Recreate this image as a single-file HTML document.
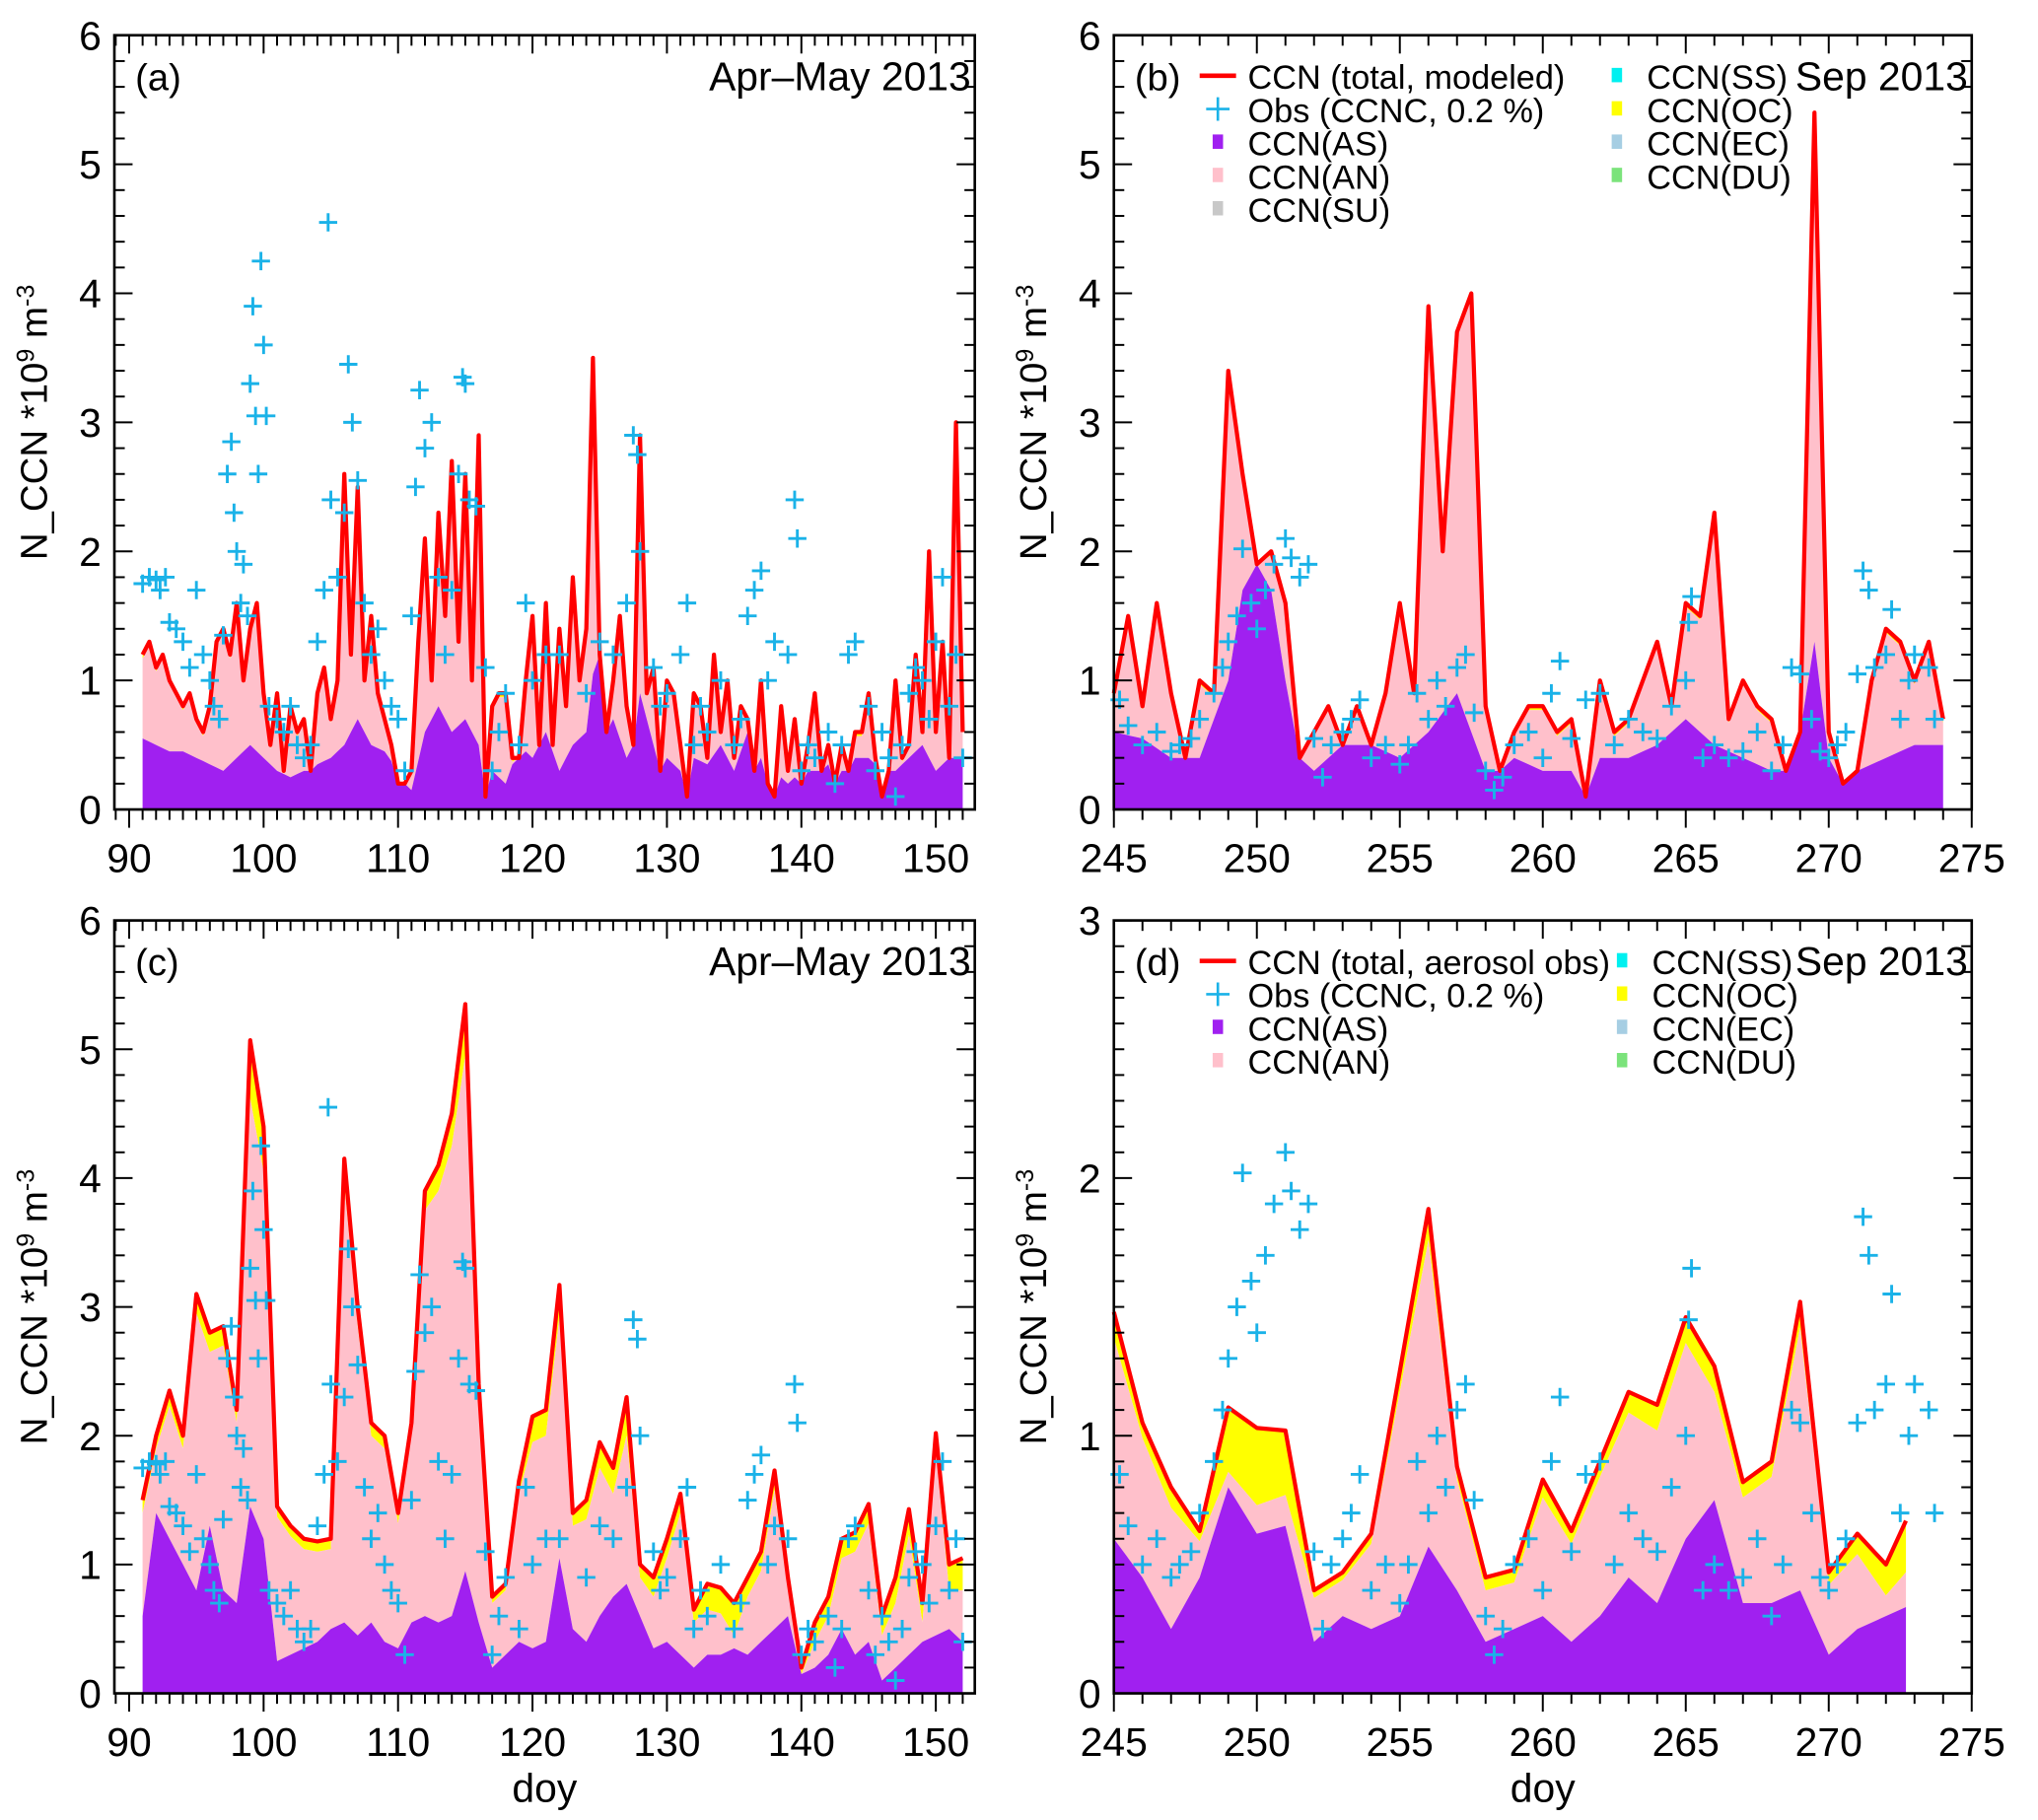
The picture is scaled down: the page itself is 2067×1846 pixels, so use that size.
<!DOCTYPE html>
<html><head><meta charset="utf-8"><style>
html,body{margin:0;padding:0;background:#fff;}
svg{display:block;font-family:"Liberation Sans",Arial,sans-serif;}
</style></head><body>
<svg id="fig" width="2067" height="1846" viewBox="0 0 1568 1394" preserveAspectRatio="none" xmlns="http://www.w3.org/2000/svg"></svg>
<script>
// ---- Data ----
const totalA = [1.2,1.3,1.1,1.2,1.0,0.9,0.8,0.9,0.7,0.6,0.8,1.3,1.4,1.2,1.6,1.0,1.4,1.6,0.9,0.5,0.9,0.3,0.8,0.6,0.7,0.3,0.9,1.1,0.7,1.0,2.6,1.2,2.5,1.0,1.5,0.9,0.7,0.5,0.2,0.2,0.3,1.3,2.1,1.0,2.3,1.5,2.7,1.3,2.6,1.0,2.9,0.1,0.8,0.9,0.9,0.4,0.4,1.0,1.5,0.5,1.6,0.5,1.4,0.8,1.8,1.0,1.4,3.5,1.2,0.6,1.0,1.5,0.8,0.5,2.9,0.9,1.1,0.3,1.0,0.9,0.5,0.1,0.9,0.8,0.4,1.2,0.6,1.0,0.4,0.8,0.7,0.3,1.0,0.2,0.1,0.8,0.3,0.7,0.2,0.5,0.9,0.3,0.5,0.2,0.5,0.3,0.6,0.6,0.9,0.4,0.1,0.3,1.0,0.4,0.5,1.2,0.6,2.0,0.6,1.3,0.4,3.0,0.6];
const asA = [0.55,0.5,0.45,0.45,0.4,0.35,0.3,0.4,0.5,0.4,0.3,0.25,0.3,0.35,0.4,0.5,0.7,0.5,0.45,0.3,0.15,0.6,0.8,0.6,0.7,0.5,0.3,0.2,0.5,0.4,0.6,0.3,0.5,0.6,1.5,0.7,0.4,0.9,0.5,0.4,0.3,0.4,0.35,0.5,0.3,0.6,0.4,0.3,0.2,0.3,0.3,0.35,0.3,0.4,0.4,0.3,0.3,0.4,0.5,0.3,0.4,0.4];
const totalB = [0.9,1.5,0.8,1.6,0.9,0.4,1.0,0.9,3.4,2.6,1.9,2.0,1.6,0.4,0.6,0.8,0.5,0.8,0.5,0.9,1.6,0.9,3.9,2.0,3.7,4.0,0.8,0.3,0.6,0.8,0.8,0.6,0.7,0.1,1.0,0.6,0.7,1.0,1.3,0.8,1.6,1.5,2.3,0.7,1.0,0.8,0.7,0.3,0.6,5.4,0.6,0.2,0.3,1.0,1.4,1.3,1.0,1.3,0.7];
const asB = [0.6,0.55,0.4,0.4,1.0,2.4,1.0,0.3,0.5,0.5,0.4,0.6,0.9,0.3,0.4,0.3,0.3,0.4,0.4,0.5,0.7,0.5,0.4,0.3,2.2,0.4,0.3,0.4,0.5,0.5];
const totalC = [1.5,2.0,2.35,2.0,3.1,2.8,2.85,2.2,5.07,4.4,1.45,1.3,1.2,1.18,1.2,4.15,3.0,2.1,2.0,1.4,2.1,3.9,4.1,4.5,5.35,2.4,0.75,0.85,1.65,2.15,2.2,3.17,1.4,1.5,1.95,1.75,2.3,1.0,0.9,1.2,1.55,0.65,0.85,0.82,0.7,0.9,1.1,1.73,0.9,0.2,0.55,0.75,1.2,1.25,1.47,0.6,0.9,1.43,0.7,2.02,1.0,1.05];
const asC = [0.6,1.4,1.2,1.0,0.8,1.3,0.8,0.7,1.45,1.2,0.25,0.3,0.35,0.4,0.5,0.55,0.45,0.55,0.4,0.35,0.55,0.6,0.55,0.6,0.95,0.55,0.2,0.3,0.4,0.35,0.4,1.05,0.5,0.4,0.6,0.75,0.85,0.6,0.35,0.4,0.3,0.2,0.3,0.3,0.35,0.3,0.4,0.5,0.6,0.15,0.2,0.3,0.5,0.3,0.4,0.1,0.2,0.3,0.4,0.45,0.5,0.4];
const ocC = [0.1,0.1,0.12,0.1,0.15,0.15,0.15,0.1,0.45,0.35,0.08,0.08,0.08,0.08,0.08,0.2,0.15,0.1,0.1,0.08,0.1,0.15,0.2,0.25,0.4,0.15,0.05,0.05,0.1,0.2,0.2,0.25,0.1,0.15,0.2,0.2,0.3,0.1,0.15,0.15,0.15,0.1,0.2,0.2,0.25,0.15,0.15,0.15,0.1,0.05,0.15,0.15,0.15,0.15,0.15,0.15,0.2,0.2,0.15,0.15,0.2,0.25];
const daysD = [245,246,247,248,249,250,251,252,253,254,255,256,257,258,259,260,261,262,263,264,265,266,267,268,269,270,271,272,272.7];
const totalD = [1.48,1.05,0.8,0.63,1.11,1.03,1.02,0.4,0.47,0.62,1.25,1.88,0.88,0.45,0.48,0.83,0.63,0.9,1.17,1.12,1.46,1.27,0.82,0.9,1.52,0.47,0.62,0.5,0.67];
const asD = [0.6,0.45,0.25,0.45,0.8,0.62,0.65,0.2,0.3,0.25,0.3,0.57,0.4,0.2,0.25,0.3,0.2,0.3,0.45,0.35,0.6,0.75,0.35,0.35,0.4,0.15,0.25,0.3,0.35];
const ocD = [0.1,0.06,0.08,0.04,0.25,0.3,0.25,0.03,0.03,0.04,0.08,0.12,0.05,0.05,0.05,0.07,0.05,0.06,0.08,0.1,0.1,0.1,0.06,0.06,0.1,0.05,0.08,0.12,0.2];
const obsDaysA = [91,91.5,92,92.3,92.7,93,93.5,94,94.5,95,95.5,96,96.3,96.7,97,97.3,97.6,97.8,98,98.3,98.5,98.8,99,99.2,99.4,99.6,99.8,100,100.2,100.4,101,101.5,102,102.5,103,103.5,104,104.5,104.8,105,105.5,106,106.3,106.6,107,107.5,108,108.5,109,109.5,110,110.5,111,111.3,111.6,112,112.5,113,113.5,114,114.5,114.8,115,115.3,115.8,116.5,117,117.5,118,119,119.5,120,121,122,124,125,126,127,127.5,127.8,128,129,129.5,130,131,131.5,132,132.5,133,134,135,135.5,136,136.5,137,137.5,138,139,139.5,139.7,140,140.5,141,142,142.5,143,143.5,144,145,145.5,146,146.5,147,147.5,148,148.5,149,149.5,150,150.5,151,151.5,152];
const obsValsA = [1.75,1.8,1.78,1.7,1.8,1.45,1.4,1.3,1.1,1.7,1.2,1.0,0.8,0.7,1.35,2.6,2.85,2.3,2.0,1.6,1.9,1.5,3.3,3.9,3.05,2.6,4.25,3.6,3.05,0.8,0.7,0.6,0.8,0.5,0.4,0.5,1.3,1.7,4.55,2.4,1.8,2.3,3.45,3.0,2.55,1.6,1.2,1.4,1.0,0.8,0.7,0.3,1.5,2.5,3.25,2.8,3.0,1.8,1.2,1.7,2.6,3.35,3.3,2.4,2.35,1.1,0.3,0.6,0.9,0.5,1.6,1.0,1.2,1.2,0.9,1.3,1.2,1.6,2.9,2.75,2.0,1.1,0.8,0.9,1.2,1.6,0.5,0.8,0.6,1.0,0.5,0.7,1.5,1.7,1.85,1.0,1.3,1.2,2.4,2.1,0.3,0.5,0.4,0.6,0.2,0.5,1.2,1.3,0.8,0.3,0.6,0.4,0.1,0.5,0.9,1.1,1.0,0.7,1.3,1.8,0.8,1.2,0.4];
const obsDaysB = [245.2,245.5,246,246.5,247,247.3,247.7,248,248.5,248.8,249,249.3,249.5,249.8,250,250.3,250.6,251,251.2,251.5,251.8,252,252.3,252.6,253,253.3,253.6,254,254.5,255,255.3,255.6,256,256.3,256.6,257,257.3,257.6,258,258.3,258.6,259,259.5,260,260.3,260.6,261,261.5,262,262.5,263,263.5,264,264.5,265,265.1,265.2,265.6,266,266.5,267,267.5,268,268.4,268.7,269,269.4,269.7,270,270.3,270.6,271,271.2,271.4,271.6,272,272.2,272.5,272.8,273,273.5,273.7];
const obsValsB = [0.85,0.65,0.5,0.6,0.45,0.5,0.55,0.7,0.9,1.1,1.3,1.5,2.02,1.6,1.4,1.7,1.9,2.1,1.95,1.8,1.9,0.55,0.25,0.5,0.6,0.7,0.85,0.4,0.5,0.35,0.5,0.9,0.7,1.0,0.8,1.1,1.2,0.75,0.3,0.15,0.25,0.5,0.6,0.4,0.9,1.15,0.55,0.85,0.9,0.5,0.7,0.6,0.55,0.8,1.0,1.45,1.65,0.4,0.5,0.4,0.45,0.6,0.3,0.5,1.1,1.05,0.7,0.45,0.4,0.5,0.6,1.05,1.85,1.7,1.1,1.2,1.55,0.7,1.0,1.2,1.1,0.7];

const NS='http://www.w3.org/2000/svg';
const svg=document.getElementById('fig');
function mk(tag,attrs,parent){const e=document.createElementNS(NS,tag);for(const k in attrs)e.setAttribute(k,attrs[k]);(parent||svg).appendChild(e);return e;}
function txt(s,x,y,size,parent,anchor){const t=mk('text',{x:x,y:y,'font-size':size,'text-anchor':anchor||'start',fill:'#000'},parent);t.textContent=s;return t;}

function panel(p){
  const g=mk('g',{});
  
  
  const X=d=>p.x0+(d-p.d0)/(p.d1-p.d0)*(p.x1-p.x0);
  const Y=v=>p.y0-Math.min(v,p.ymax)/p.ymax*(p.y0-p.y1);
  const days=p.days;
  const tot=p.total;
  const asv=days.map(d=>{const j=(d-p.asStart)/p.asStep;const i=Math.floor(j),f=j-i;const a=p.as[Math.max(0,Math.min(p.as.length-1,i))],b=p.as[Math.max(0,Math.min(p.as.length-1,i+1))];return a+(b-a)*f;});
  const clipAS=asv.map((a,i)=>Math.min(a,tot[i]));
  const oc=p.oc?p.oc:tot.map(()=>0.03);
  const anTop=tot.map((t,i)=>Math.max(clipAS[i],t-oc[i]));
  function area(top,bot,fill,name){
    let d='M'+days.map((x,i)=>X(x).toFixed(1)+','+Y(top[i]).toFixed(1)).join('L');
    for(let i=days.length-1;i>=0;i--)d+='L'+X(days[i]).toFixed(1)+','+Y(bot[i]).toFixed(1);
    const e=mk('path',{d:d+'Z',fill:fill,stroke:'none'},g);
    
    
  }
  const zero=tot.map(()=>0);
  area(tot,anTop,'#ffff00','area-oc');
  area(anTop,clipAS,'#ffc0cb','area-an');
  area(clipAS,zero,'#a020f0','area-as');
  const line=mk('polyline',{points:days.map((x,i)=>X(x).toFixed(1)+','+Y(tot[i]).toFixed(1)).join(' '),fill:'none',stroke:'#ff0000','stroke-width':3.2,'stroke-linejoin':'round'},g);
  
  
  for(let i=0;i<p.obsD.length;i++){
    const cx=X(p.obsD[i]),cy=Y(p.obsV[i]);
    if(p.obsV[i]>p.ymax)continue;
    const m=mk('path',{d:`M${cx-7},${cy}H${cx+7}M${cx},${cy-7}V${cy+7}`,stroke:'#1ab2e8','stroke-width':2.2,fill:'none'},g);
    
    
  }
  mk('rect',{x:p.x0,y:p.y1,width:p.x1-p.x0,height:p.y0-p.y1,fill:'none',stroke:'#000','stroke-width':2},g);
  for(let d=Math.ceil(p.d0);d<=p.d1;d++){
    const major=d%p.xmaj===0;const L=major?14:8;const x=X(d);
    mk('line',{x1:x,x2:x,y1:p.y0,y2:p.y0+L,stroke:'#000','stroke-width':1.5},g);
    mk('line',{x1:x,x2:x,y1:p.y1,y2:p.y1+L,stroke:'#000','stroke-width':1.5},g);
    if(major){const t=txt(String(d),x,p.y0+48,31,g,'middle');}
  }
  const nMin=p.ymax*p.yminor;
  for(let k=0;k<=nMin;k++){
    const v=k/p.yminor;const major=k%p.yminor===0;const L=major?14:8;const y=Y(v);
    mk('line',{x1:p.x0,x2:p.x0+L,y1:y,y2:y,stroke:'#000','stroke-width':1.5},g);
    mk('line',{x1:p.x1,x2:p.x1-L,y1:y,y2:y,stroke:'#000','stroke-width':1.5},g);
    if(major){const t=txt(String(v),p.x0-10,y+11,31,g,'end');}
  }
  const yt=mk('text',{transform:`translate(${p.x0-52},${(p.y0+p.y1)/2}) rotate(-90)`,'font-size':29,'text-anchor':'middle'},g);
  yt.innerHTML='N_CCN *10<tspan dy="-10" font-size="19">9</tspan><tspan dy="10"> m</tspan><tspan dy="-10" font-size="19">-3</tspan>';
  
  
  const pl=txt('('+p.id+')',p.x0+16,p.y1+42,29,g);
  
  
  const ti=txt(p.title,p.x1-3,p.y1+42,31,g,'end');
  
  
  if(p.xtitle){const xt=txt('doy',(p.x0+p.x1)/2,p.y0+83,31,g,'middle');}
  if(p.legend){
    const lg=mk('g',{},g);
    
    
    const lx=p.x0+63, rx=p.x0+p.legCol2, ly=p.y1+41, dy=25.5;
    const left=[['line','#ff0000',p.legend],['plus','#1ab2e8','Obs (CCNC, 0.2 %)'],['sq','#a020f0','CCN(AS)'],['sq','#ffc0cb','CCN(AN)']];
    if(p.su)left.push(['sq','#c8c8c8','CCN(SU)']);
    const right=[['sq','#00f0f0','CCN(SS)'],['sq','#ffff00','CCN(OC)'],['sq','#a6cee3','CCN(EC)'],['sq','#7be37b','CCN(DU)']];
    function ent(e,x,y){
      const eg=mk('g',{},lg);
      
      
      if(e[0]==='line')mk('line',{x1:x-37,x2:x-9,y1:y-10,y2:y-10,stroke:e[1],'stroke-width':3.5},eg);
      else if(e[0]==='plus')mk('path',{d:`M${x-32},${y-10}H${x-14}M${x-23},${y-19}V${y-1}`,stroke:e[1],'stroke-width':2},eg);
      else mk('rect',{x:x-27,y:y-16,width:8,height:11,fill:e[1]},eg);
      txt(e[2],x,y,26,eg);
    }
    left.forEach((e,i)=>ent(e,lx+40,ly+i*dy));
    right.forEach((e,i)=>ent(e,rx,ly+i*dy));
  }
}
function seq(start,step,n){const a=[];for(let i=0;i<n;i++)a.push(start+i*step);return a;}

panel({id:'a',x0:88,x1:750,y0:620,y1:27,d0:88.9,d1:152.9,ymax:6,yminor:5,xmaj:10,days:seq(91,0.5,totalA.length),total:totalA,as:asA,asStart:91,asStep:1,oc:null,obsD:obsDaysA,obsV:obsValsA,title:'Apr\u2013May 2013'});
panel({id:'b',x0:857,x1:1517,y0:620,y1:27,d0:245,d1:275,ymax:6,yminor:5,xmaj:5,days:seq(245,0.5,totalB.length),total:totalB,as:asB,asStart:245,asStep:1,oc:null,obsD:obsDaysB,obsV:obsValsB,title:'Sep 2013',legend:'CCN (total, modeled)',su:true,legCol2:410});
panel({id:'c',x0:88,x1:750,y0:1297,y1:705,d0:88.9,d1:152.9,ymax:6,yminor:5,xmaj:10,days:seq(91,1,totalC.length),total:totalC,as:asC,asStart:91,asStep:1,oc:ocC,obsD:obsDaysA,obsV:obsValsA,title:'Apr\u2013May 2013',xtitle:true});
panel({id:'d',x0:857,x1:1517,y0:1297,y1:705,d0:245,d1:275,ymax:3,yminor:10,xmaj:5,days:daysD,total:totalD,as:asD,asStart:245,asStep:1,oc:ocD,obsD:obsDaysB,obsV:obsValsB,title:'Sep 2013',legend:'CCN (total, aerosol obs)',su:false,legCol2:414,xtitle:true});
</script>
</body></html>
